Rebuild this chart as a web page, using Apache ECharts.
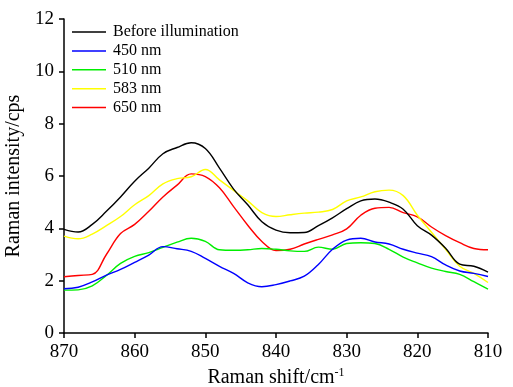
<!DOCTYPE html>
<html>
<head>
<meta charset="utf-8">
<script src="https://cdn.jsdelivr.net/npm/echarts@6/dist/echarts.min.js"></script>
<style>
  html, body { margin: 0; padding: 0; background: #fff; }
  #chart { width: 513px; height: 387px; }
</style>
</head>
<body>
<div id="chart"></div>
<script>
// Raman shift (cm-1), sampled every 2 units
const shifts = [870, 868, 866, 864, 862, 860, 858, 856, 854, 852, 850, 848, 846, 844, 842, 840,
  838, 836, 834, 832, 830, 828, 826, 824, 822, 820, 818, 816, 814, 812, 810];

const before = [3.96, 3.86, 4.15, 4.65, 5.2, 5.8, 6.3, 6.85, 7.09, 7.27, 7.05, 6.3, 5.5, 4.9, 4.25, 3.93,
  3.83, 3.84, 4.1, 4.4, 4.75, 5.05, 5.12, 5.0, 4.73, 4.1, 3.74, 3.24, 2.63, 2.55, 2.33];
const nm450 = [1.69, 1.75, 1.95, 2.21, 2.43, 2.7, 2.98, 3.3, 3.22, 3.12, 2.85, 2.55, 2.28, 1.92, 1.77, 1.85,
  1.99, 2.17, 2.62, 3.2, 3.55, 3.62, 3.48, 3.4, 3.2, 3.05, 2.92, 2.6, 2.37, 2.28, 2.16];
const nm510 = [1.64, 1.65, 1.8, 2.2, 2.66, 2.93, 3.07, 3.27, 3.47, 3.62, 3.5, 3.18, 3.16, 3.18, 3.23, 3.2,
  3.14, 3.12, 3.28, 3.2, 3.42, 3.45, 3.42, 3.2, 2.9, 2.68, 2.48, 2.35, 2.24, 1.96, 1.68];
const nm583 = [3.7, 3.6, 3.78, 4.1, 4.45, 4.9, 5.25, 5.7, 5.9, 5.97, 6.25, 5.85, 5.45, 5.05, 4.6, 4.45,
  4.52, 4.58, 4.62, 4.72, 5.05, 5.2, 5.4, 5.46, 5.25, 4.5, 3.85, 3.2, 2.55, 2.28, 1.93];
const nm650 = [2.15, 2.2, 2.24, 3.0, 3.8, 4.15, 4.65, 5.2, 5.65, 6.08, 5.98, 5.55, 4.83, 4.12, 3.5, 3.15,
  3.2, 3.4, 3.58, 3.75, 3.98, 4.5, 4.77, 4.8, 4.6, 4.44, 4.05, 3.72, 3.45, 3.23, 3.18];

const seriesNames = ["Before illumination", "450 nm", "510 nm", "583 nm", "650 nm"];
const seriesColors = ["#000000", "#0000ff", "#00ee00", "#ffff00", "#ff0000"];
const seriesValues = [before, nm450, nm510, nm583, nm650];

const xTicks = { min: 810, max: 870, interval: 10 };
const yTicks = { min: 0, max: 12, interval: 2 };

const font = "'Liberation Serif', 'Times New Roman', serif";

const chart = echarts.init(document.getElementById("chart"), null, { renderer: "canvas" });

chart.setOption({
  animation: false,
  backgroundColor: "#fff",
  textStyle: { fontFamily: font },
  grid: { left: 64, right: 25, top: 19, bottom: 54, outerBoundsMode: "none", containLabel: false },
  legend: {
    orient: "vertical",
    left: 72,
    top: 24,
    padding: 0,
    icon: "rect",
    itemWidth: 34,
    itemHeight: 1.5,
    itemGap: 2.9,
    data: seriesNames,
    textStyle: { fontFamily: font, fontSize: 16, lineHeight: 14, color: "#000", padding: [0, 0, 0, 2] },
  },
  xAxis: {
    type: "value",
    inverse: true,
    min: xTicks.min,
    max: xTicks.max,
    interval: xTicks.interval,
    name: "Raman shift/cm{sup|-1}",
    nameLocation: "middle",
    nameGap: 34,
    nameTextStyle: {
      fontFamily: font,
      fontSize: 20,
      color: "#000",
      rich: { sup: { fontFamily: font, fontSize: 12, verticalAlign: "top", padding: [0, 0, 10, 0], color: "#000" } },
    },
    axisLine: { lineStyle: { color: "#000", width: 1.5 } },
    axisTick: { length: 5, lineStyle: { color: "#000", width: 1.5 } },
    axisLabel: { fontFamily: font, fontSize: 19, color: "#000", margin: 10 },
    splitLine: { show: false },
  },
  yAxis: {
    type: "value",
    min: yTicks.min,
    max: yTicks.max,
    interval: yTicks.interval,
    name: "Raman intensity/cps",
    nameLocation: "middle",
    nameGap: 35,
    nameTextStyle: { fontFamily: font, fontSize: 20, color: "#000" },
    axisLine: { show: true, lineStyle: { color: "#000", width: 1.5 } },
    axisTick: { show: true, length: 5, lineStyle: { color: "#000", width: 1.5 } },
    axisLabel: { fontFamily: font, fontSize: 19, color: "#000", margin: 10 },
    splitLine: { show: false },
  },
  series: seriesNames.map((name, i) => ({
    name,
    type: "line",
    smooth: 0.4,
    symbol: "none",
    data: shifts.map((x, j) => [x, seriesValues[i][j]]),
    itemStyle: { color: seriesColors[i] },
    lineStyle: { color: seriesColors[i], width: 1.4 },
    z: 10 - i,
  })),
});
</script>
</body>
</html>
